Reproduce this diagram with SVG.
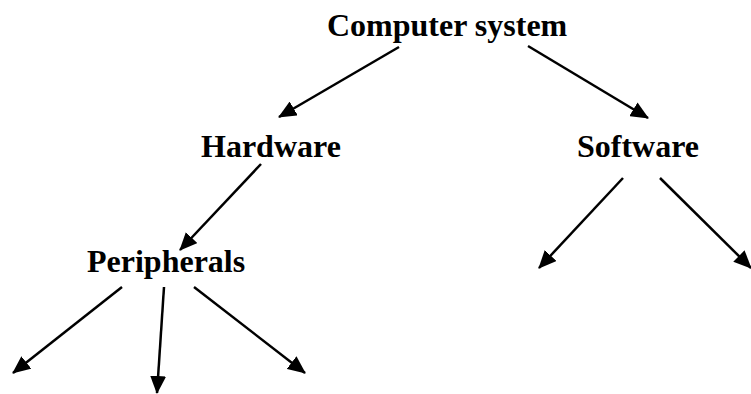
<svg xmlns="http://www.w3.org/2000/svg" width="751" height="394" viewBox="0 0 751 394">
<style>
text{font-family:"Liberation Serif","Times New Roman",serif;font-weight:bold;font-size:32px;fill:#000}
.c line{stroke:#000;stroke-width:2.5;marker-end:url(#ah)}
</style>
<defs>
<marker id="ah" markerUnits="userSpaceOnUse" markerWidth="18" markerHeight="16" viewBox="0 0 18 16" refX="17" refY="8" orient="auto">
<path d="M0,0 L18,8 L0,16 Z" fill="#000"/>
</marker>
</defs>
<rect width="751" height="394" fill="#fff"/>
<g id="computer-system"><text x="327" y="36">Computer system</text></g>
<g id="hardware"><text x="201" y="157">Hardware</text></g>
<g id="software"><text x="577" y="157">Software</text></g>
<g id="peripherals"><text x="87" y="272">Peripherals</text></g>
<g class="c" id="connectors">
<line x1="399" y1="47" x2="279" y2="117"/>
<line x1="528" y1="46" x2="648" y2="118"/>
<line x1="261" y1="164" x2="180" y2="250"/>
<line x1="623" y1="178" x2="539" y2="268"/>
<line x1="660" y1="178" x2="751" y2="268"/>
<line x1="122" y1="287" x2="13" y2="373"/>
<line x1="164" y1="287" x2="157" y2="393"/>
<line x1="194" y1="287" x2="305" y2="373"/>
</g>
</svg>
